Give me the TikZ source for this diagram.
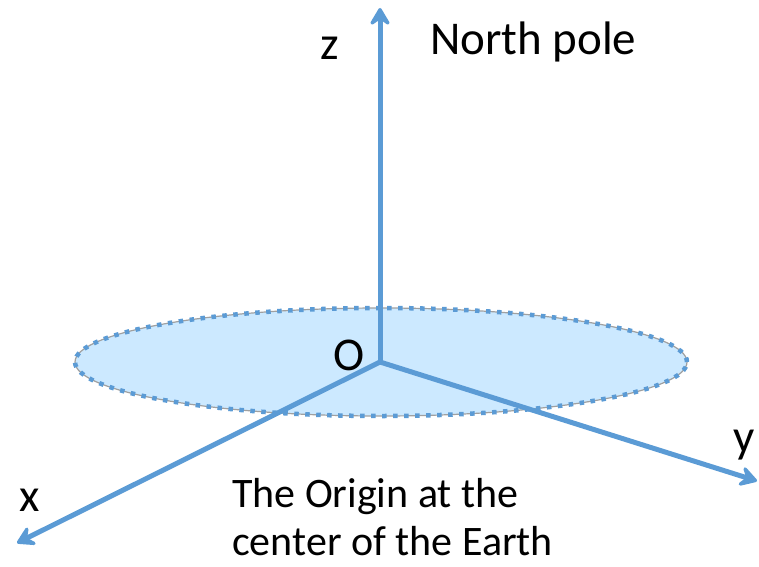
\documentclass[tikz,border=0pt]{standalone}
\usepackage{fontspec}
\setmainfont{Carlito}
\usetikzlibrary{arrows.meta}
\definecolor{axisblue}{HTML}{5B9BD5}
\definecolor{planefill}{HTML}{CCE9FF}
\definecolor{rimgray}{HTML}{A0A0A0}
\tikzset{
  axis/.style={draw=axisblue, line width=5pt, line cap=round,
    -{Stealth[length=22pt,width=26pt,inset=9pt,round]}},
  lbl/.style={inner sep=0pt, font=\fontsize{47}{50}\selectfont, anchor=base west},
  note/.style={inner sep=0pt, font=\fontsize{42}{49}\selectfont, anchor=base west},
}
\begin{document}
\begin{tikzpicture}[x=1pt,y=1pt]
\useasboundingbox (0,0) rectangle (759,566);
% equatorial plane
\fill[planefill] (381,204) ellipse [x radius=306, y radius=54];
\draw[rimgray, line width=1.2pt] (381,204) ellipse [x radius=306, y radius=54];
\draw[axisblue, line width=4.5pt, dash pattern=on 4.5pt off 6.5pt] (381,204) ellipse [x radius=306, y radius=54];
% origin and axis ends
\coordinate (O) at (380,204);
\coordinate (zt) at (380,558);
\coordinate (yt) at (757,85);
\coordinate (xt) at (17,23);
\draw[axis] (O) -- (zt);
\draw[axis] (O) -- (yt);
\draw[axis] (O) -- (xt);
% labels
\node[lbl] (zl) at (320,506) {z};
\node[lbl] (np) at (430,511) {North pole};
\node[lbl] (ol) at (333,196) {O};
\node[lbl] (yl) at (733,114) {y};
\node[lbl] (xl) at (19,55) {x};
\node[note] (orig1) at (232,59) {The Origin at the};
\node[note] (orig2) at (232,11) {center of the Earth};
\end{tikzpicture}
\end{document}
